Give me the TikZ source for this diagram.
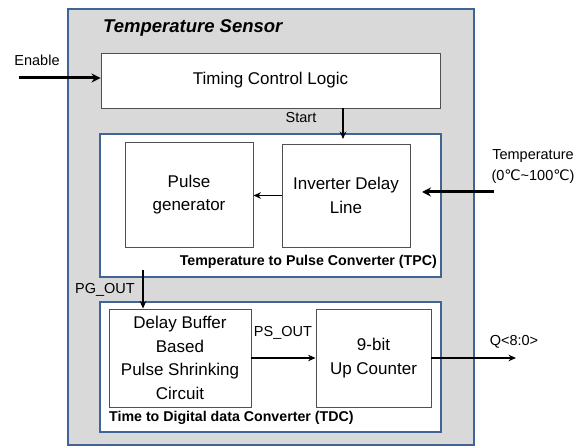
\documentclass[tikz,border=0pt]{standalone}
\usepackage{fontspec}
\setmainfont{Liberation Sans}
\newfontfamily\symfont{DejaVu Sans}
\usetikzlibrary{positioning, arrows.meta}

\definecolor{frameblue}{RGB}{63,100,149}
\definecolor{panelgray}{RGB}{217,217,217}
\definecolor{boxline}{RGB}{80,80,80}

\tikzset{
  block/.style={draw=boxline, fill=white, line width=0.9pt, align=center,
    inner sep=0pt, font=\fontsize{17}{23.5}\selectfont},
  grpframe/.style={draw=frameblue, line width=2.6pt, inner sep=0pt},
  tag/.style={inner sep=0pt, font=\fontsize{14.5}{21}\selectfont},
  groupcap/.style={inner sep=0pt, font=\fontsize{14.2}{16}\selectfont\bfseries},
  wire/.style={-{Stealth[length=7.5pt,width=6.5pt]}, line width=1.3pt},
  bigwire/.style={-{Stealth[length=9pt,width=9pt]}, line width=3pt},
}

\begin{document}
\begin{tikzpicture}[x=1pt, y=-1pt]

    % =================================================================
    % 1. KHUNG NGOAI (TEMPERATURE SENSOR)
    % =================================================================
    \useasboundingbox (0,0) rectangle (582,446);
    \node[grpframe, fill=panelgray, minimum width=406pt, minimum height=436pt] (sensor) at (271,227) {};
    \node[anchor=west, inner sep=0pt, font=\fontsize{18.5}{20}\selectfont\bfseries\itshape] (title) at (103,28) {Temperature Sensor};

    % Khoi dieu khien
    \node[block, minimum width=339pt, minimum height=55pt] (tcl) at (270.5,80.5) {Timing Control Logic};

    % =================================================================
    % 2. KHOI TPC
    % =================================================================
    \node[grpframe, fill=white, minimum width=341pt, minimum height=143pt] (tpc) at (270.5,205.5) {};
    \node[block, minimum width=128pt, minimum height=105pt] (pg) at (189,194.5) {Pulse\\generator};
    \node[block, minimum width=128pt, minimum height=103pt] (idl) at (346,195.5) {Inverter Delay\\Line};
    \node[groupcap, anchor=east] (tpccap) at (437,262) {Temperature to Pulse Converter (TPC)};

    % =================================================================
    % 3. KHOI TDC
    % =================================================================
    \node[grpframe, fill=white, minimum width=341pt, minimum height=130pt] (tdc) at (270.5,367) {};
    \node[block, minimum width=142pt, minimum height=98pt] (dbb) at (180,358) {Delay Buffer\\Based\\Pulse Shrinking\\Circuit};
    \node[block, minimum width=115pt, minimum height=98pt] (cnt) at (373.5,358) {9-bit\\Up Counter};
    \node[groupcap, anchor=west] (tdccap) at (109,418) {Time to Digital data Converter (TDC)};

    % =================================================================
    % 4. NHAN TIN HIEU
    % =================================================================
    \node[tag] (enlbl) at (37,60) {Enable};
    \node[tag] (startlbl) at (301,118) {Start};
    \node[tag, align=center] (templbl) at (533,166.5) {Temperature\\(0{\symfont ℃}\textasciitilde100{\symfont ℃})};
    \node[tag] (pglbl) at (105,290) {PG\_OUT};
    \node[tag] (pslbl) at (283,333) {PS\_OUT};
    \node[tag] (qlbl) at (514,342) {Q<8:0>};

    % =================================================================
    % 5. DAY NOI
    % =================================================================
    \coordinate (enin) at (19,78);
    \coordinate (starttip) at (343,139);
    \coordinate (tin) at (494,192);
    \coordinate (tend) at (422,192);
    \coordinate (pgtap) at (143,270);
    \coordinate (qout) at (516,358);

    \draw[bigwire] (enin) -- (tcl.west |- enin);
    \draw[wire] (tcl.south -| starttip) -- (starttip);
    \draw[bigwire] (tin) -- (tend);
    \draw[wire] (idl.west) -- (pg.east |- idl.west);
    \draw[wire] (pgtap) -- (dbb.north -| pgtap);
    \draw[wire] (dbb.east) -- (cnt.west);
    \draw[wire, line width=1.7pt] (cnt.east) -- (qout);

\end{tikzpicture}
\end{document}
